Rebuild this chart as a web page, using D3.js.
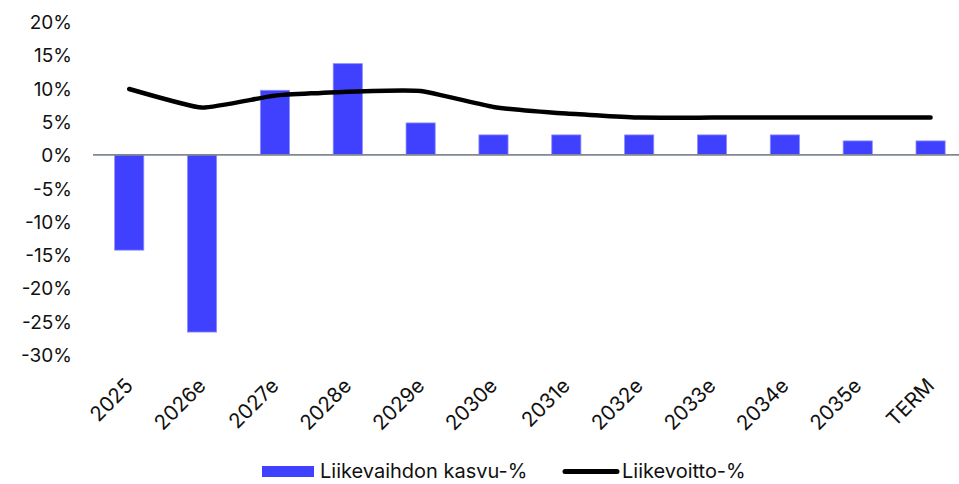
<!DOCTYPE html>
<html>
<head>
<meta charset="utf-8">
<script src="https://cdn.jsdelivr.net/npm/d3@7"></script>
<style>
  body { margin: 0; background: #fff; }
  text { font-family: Inter, "Liberation Sans", Arial, sans-serif; fill: #111; }
</style>
</head>
<body>
<div id="chart"></div>
<script>
const categories = ["2025", "2026e", "2027e", "2028e", "2029e", "2030e", "2031e", "2032e", "2033e", "2034e", "2035e", "TERM"];
const revenueGrowth = [-14.3, -26.6, 9.7, 13.7, 4.8, 3.0, 3.0, 3.0, 3.0, 3.0, 2.1, 2.1];
const ebitMargin = [9.9, 7.1, 8.9, 9.5, 9.6, 7.2, 6.2, 5.6, 5.6, 5.6, 5.6, 5.6];
const yTicks = [20, 15, 10, 5, 0, -5, -10, -15, -20, -25, -30];
const seriesNames = ["Liikevaihdon kasvu-%", "Liikevoitto-%"];

const width = 959, height = 484;
const barColor = "#4040ff";

const svg = d3.select("#chart")
  .append("svg")
  .attr("width", width)
  .attr("height", height);

const x = d3.scaleBand()
  .domain(categories)
  .range([92.8, 967])
  .padding(0);

const y = d3.scaleLinear()
  .domain([-30, 20])
  .range([354.7, 21.7]);

// y axis labels only, no line
const yAxis = svg.append("g")
  .attr("transform", "translate(72,0)")
  .call(d3.axisLeft(y).tickValues(yTicks).tickSize(0).tickPadding(0).tickFormat(d => d + "%"));
yAxis.select(".domain").remove();
yAxis.selectAll("text")
  .style("font-size", "19px")
  .style("fill", "#111")
  .attr("dy", "0.36em");

// bars
const barW = x.bandwidth() * 0.4;
svg.selectAll("rect.bar")
  .data(categories)
  .enter()
  .append("rect")
  .attr("class", "bar")
  .attr("x", d => x(d) + (x.bandwidth() - barW) / 2)
  .attr("width", barW)
  .attr("y", (d, i) => y(Math.max(0, revenueGrowth[i])))
  .attr("height", (d, i) => Math.abs(y(revenueGrowth[i]) - y(0)))
  .style("fill", barColor)
  .style("stroke", "#8c8cff")
  .style("stroke-width", 0.8);

// zero line
svg.append("line")
  .attr("x1", 93)
  .attr("x2", 959)
  .attr("y1", y(0))
  .attr("y2", y(0))
  .style("stroke", "#7f8890")
  .style("stroke-width", 1.8);

// x axis labels
const xAxis = svg.append("g")
  .attr("transform", `translate(0,${y(0)})`)
  .call(d3.axisBottom(x).tickSize(0).tickPadding(0));
xAxis.select(".domain").remove();
xAxis.selectAll("text")
  .style("font-size", "20.5px")
  .style("fill", "#111")
  .style("text-anchor", "end")
  .attr("dy", null)
  .attr("y", 0)
  .attr("transform", `translate(5,${387 - y(0)}) rotate(-45)`);

// line
const line = d3.line()
  .x((d, i) => x(categories[i]) + x.bandwidth() / 2)
  .y(d => y(d))
  .curve(d3.curveCardinal.tension(0.6));

svg.append("path")
  .datum(ebitMargin)
  .attr("d", line)
  .style("fill", "none")
  .style("stroke", "#000")
  .style("stroke-width", 4.5)
  .style("stroke-linecap", "round")
  .style("stroke-linejoin", "round");

// legend
const legend = svg.append("g");
legend.append("rect")
  .attr("x", 262)
  .attr("y", 466)
  .attr("width", 52)
  .attr("height", 11)
  .style("fill", barColor);
legend.append("text")
  .attr("x", 320)
  .attr("y", 478)
  .style("font-size", "20px")
  .text(seriesNames[0]);
legend.append("line")
  .attr("x1", 565)
  .attr("x2", 617)
  .attr("y1", 471.5)
  .attr("y2", 471.5)
  .style("stroke", "#000")
  .style("stroke-width", 5)
  .style("stroke-linecap", "round");
legend.append("text")
  .attr("x", 622)
  .attr("y", 478)
  .style("font-size", "20px")
  .text(seriesNames[1]);
</script>
</body>
</html>
